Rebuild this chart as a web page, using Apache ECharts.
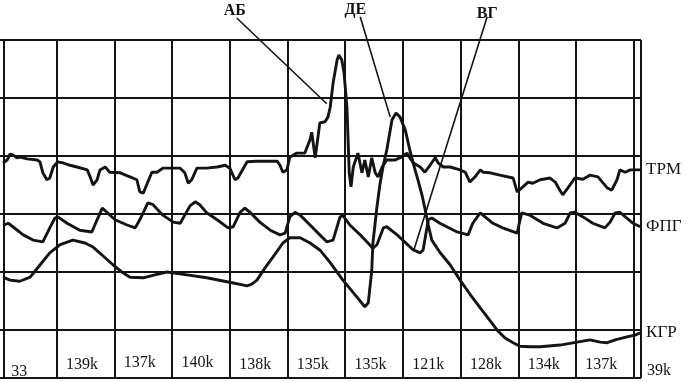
<!DOCTYPE html>
<html><head><meta charset="utf-8">
<script src="https://cdn.jsdelivr.net/npm/echarts@6/dist/echarts.min.js"></script>
<style>html,body{margin:0;padding:0;background:#fff}#c{width:698px;height:382px}</style>
</head><body><div id="c"></div>
<script>
// x: time in chart columns (one column per tick label), y: divisions below the top grid line
const timeLabels = ['33','139k','137k','140k','138k','135k','135k','121k','128k','134k','137k','39k'];
const channelNames = ['ТРМ','ФПГ','КГР'];
const markerNames = ['АБ','ДЕ','ВГ'];

const trm = [[0.07,2.12],[0.14,2.07],[0.19,1.97],[0.24,1.98],[0.31,2.03],[0.36,2.02],[0.49,2.05],[0.66,2.07],[0.71,2.10],[0.76,2.29],[0.83,2.41],[0.88,2.38],[0.94,2.19],[1.02,2.10],[1.11,2.12],[1.23,2.16],[1.35,2.19],[1.53,2.24],[1.58,2.36],[1.63,2.50],[1.70,2.41],[1.75,2.24],[1.84,2.19],[1.92,2.28],[2.10,2.29],[2.27,2.36],[2.39,2.41],[2.44,2.62],[2.50,2.64],[2.57,2.47],[2.65,2.28],[2.74,2.28],[2.84,2.21],[3.02,2.21],[3.14,2.21],[3.22,2.29],[3.28,2.47],[3.34,2.41],[3.43,2.21],[3.60,2.21],[3.78,2.19],[3.92,2.16],[4.00,2.21],[4.09,2.41],[4.14,2.38],[4.30,2.10],[4.47,2.09],[4.82,2.09],[4.87,2.16],[4.92,2.28],[4.99,2.24],[5.04,2.02],[5.16,1.95],[5.30,1.95],[5.39,1.72],[5.42,1.59],[5.48,2.03],[5.56,1.43],[5.65,1.41],[5.70,1.33],[5.74,1.16],[5.79,0.74],[5.86,0.34],[5.89,0.26],[5.94,0.34],[5.98,0.57],[6.03,1.16],[6.07,2.29],[6.10,2.53],[6.14,2.19],[6.22,1.95],[6.29,2.29],[6.34,2.07],[6.40,2.36],[6.46,2.03],[6.52,2.29],[6.57,2.36],[6.64,2.19],[6.72,2.07],[6.86,2.07],[6.95,2.03],[7.07,1.95],[7.12,2.03],[7.18,2.12],[7.30,2.19],[7.38,2.28],[7.47,2.16],[7.56,2.03],[7.61,2.12],[7.70,2.19],[7.82,2.19],[7.99,2.24],[8.08,2.28],[8.16,2.45],[8.25,2.36],[8.34,2.24],[8.39,2.28],[8.51,2.29],[8.68,2.33],[8.91,2.38],[8.98,2.62],[9.06,2.55],[9.17,2.45],[9.25,2.47],[9.38,2.41],[9.55,2.38],[9.64,2.45],[9.72,2.59],[9.77,2.67],[9.86,2.55],[9.98,2.38],[10.12,2.40],[10.24,2.33],[10.38,2.36],[10.54,2.55],[10.62,2.59],[10.71,2.41],[10.76,2.24],[10.85,2.28],[10.94,2.24],[11.11,2.24]];

const fpg = [[0.07,3.19],[0.16,3.16],[0.24,3.22],[0.42,3.36],[0.59,3.45],[0.76,3.48],[0.88,3.24],[0.97,3.07],[1.02,3.05],[1.18,3.16],[1.40,3.28],[1.61,3.31],[1.70,3.10],[1.79,2.90],[1.87,2.97],[2.01,3.10],[2.22,3.19],[2.36,3.24],[2.44,3.10],[2.58,2.81],[2.67,2.84],[2.84,3.02],[3.02,3.14],[3.14,3.16],[3.22,3.02],[3.31,2.86],[3.40,2.79],[3.48,2.84],[3.60,2.98],[3.78,3.10],[3.97,3.24],[4.06,3.22],[4.18,2.97],[4.26,2.90],[4.35,2.97],[4.52,3.14],[4.70,3.28],[4.87,3.36],[4.96,3.33],[5.04,3.05],[5.13,2.97],[5.22,3.02],[5.39,3.19],[5.56,3.36],[5.68,3.48],[5.79,3.45],[5.91,3.05],[5.96,3.03],[6.08,3.19],[6.26,3.36],[6.48,3.59],[6.55,3.53],[6.66,3.24],[6.72,3.22],[6.90,3.36],[7.18,3.62],[7.30,3.67],[7.35,3.62],[7.44,3.10],[7.50,3.07],[7.64,3.16],[7.94,3.31],[8.13,3.36],[8.21,3.16],[8.34,2.98],[8.56,3.16],[8.73,3.24],[8.98,3.33],[9.03,3.10],[9.06,2.98],[9.20,3.02],[9.43,3.16],[9.67,3.24],[9.81,3.16],[9.90,2.98],[9.98,2.97],[10.12,3.05],[10.29,3.16],[10.50,3.24],[10.59,3.14],[10.68,2.98],[10.76,2.97],[10.88,3.07],[10.99,3.16],[11.11,3.22]];

const kgr = [[0.07,4.09],[0.19,4.14],[0.36,4.16],[0.54,4.09],[0.71,3.88],[0.88,3.67],[1.06,3.53],[1.28,3.45],[1.49,3.50],[1.63,3.57],[1.80,3.72],[1.98,3.88],[2.13,4.00],[2.27,4.09],[2.50,4.10],[2.70,4.05],[2.91,4.00],[3.26,4.05],[3.60,4.10],[4.06,4.19],[4.30,4.24],[4.38,4.21],[4.47,4.14],[4.61,3.93],[4.75,3.74],[4.92,3.50],[5.04,3.41],[5.22,3.41],[5.39,3.50],[5.56,3.62],[5.74,3.84],[5.96,4.14],[6.20,4.43],[6.34,4.60],[6.40,4.53],[6.46,3.97],[6.48,3.50],[6.55,2.88],[6.60,2.50],[6.66,2.16],[6.72,1.90],[6.81,1.38],[6.88,1.26],[6.95,1.33],[7.04,1.55],[7.12,1.90],[7.21,2.24],[7.26,2.41],[7.33,2.67],[7.38,2.90],[7.44,3.19],[7.50,3.45],[7.64,3.66],[7.82,3.88],[7.99,4.14],[8.16,4.38],[8.34,4.62],[8.51,4.84],[8.63,5.00],[8.77,5.14],[8.91,5.22],[9.03,5.28],[9.20,5.29],[9.38,5.29],[9.72,5.26],[10.02,5.21],[10.24,5.17],[10.42,5.21],[10.54,5.22],[10.68,5.17],[10.88,5.12],[11.02,5.09],[11.11,5.05]];

const pointerAB = [[4.12,-0.38],[5.68,1.10]];
const pointerDE = [[6.26,-0.40],[6.78,1.33]];
const pointerVG = [[8.46,-0.40],[7.19,3.62]];

const FONT = "'Liberation Serif', 'DejaVu Serif', serif";
const INK = '#141414';

function trace(name, data) {
  return {
    type: 'line', name: name, data: data, xAxisIndex: 0, yAxisIndex: 0,
    symbol: 'none', smooth: false, animation: false,
    lineStyle: { color: INK, width: 2.9 },
    endLabel: { show: true, formatter: name, color: INK, fontFamily: FONT, fontSize: 17, distance: 6 }
  };
}
function pointer(name, pts, shift) {
  return {
    type: 'line', name: name, xAxisIndex: 0, yAxisIndex: 0, clip: false,
    symbol: 'circle', symbolSize: 1, showSymbol: true, animation: false, silent: true,
    itemStyle: { color: 'rgba(0,0,0,0)' },
    lineStyle: { color: INK, width: 1.6 },
    label: { show: false },
    data: pts.map((p, i) => i === 0 ? {
      value: p,
      label: { show: true, position: 'top', distance: 1, offset: shift, formatter: name,
               color: INK, fontFamily: FONT, fontSize: 16, fontWeight: 'bold' }
    } : p)
  };
}

function labelStyle(i) {
  if (i === 0) return 'a';
  if (i === timeLabels.length - 1) return 'd';
  if (i === 2 || i === 3) return 'c';
  return 'b';
}

const chart = echarts.init(document.getElementById('c'), null, { renderer: 'canvas' });
chart.setOption({
  backgroundColor: '#ffffff',
  animation: false,
  grid: [
    { left: -1, top: 40, width: 642, height: 338, outerBoundsMode: 'none', containLabel: false },
    { left: -4.5, top: 40, width: 692.4, height: 338, outerBoundsMode: 'none', containLabel: false }
  ],
  xAxis: [
    { type: 'value', gridIndex: 0, min: 0, max: 11.126, interval: 1,
      axisLine: { show: false }, axisTick: { show: false }, axisLabel: { show: false },
      splitLine: { show: true, lineStyle: { color: INK, width: 2 } } },
    { type: 'category', gridIndex: 1, data: timeLabels, boundaryGap: true,
      axisLine: { show: false }, axisTick: { show: false }, splitLine: { show: false },
      axisLabel: {
        show: true, inside: true, margin: -2, interval: 0,
        color: INK, fontFamily: FONT, fontSize: 16,
        formatter: (v, i) => '{' + labelStyle(i) + '|' + v + '}',
        rich: {
          a: { fontFamily: FONT, fontSize: 16, color: INK, padding: [0, 10, 0, 0] },
          b: { fontFamily: FONT, fontSize: 16, color: INK, padding: [0, 0, 7, 0] },
          c: { fontFamily: FONT, fontSize: 16, color: INK, padding: [0, 0, 9, 0] },
          d: { fontFamily: FONT, fontSize: 16, color: INK, padding: [0, 0, 1, 0] }
        }
      } }
  ],
  yAxis: [
    { type: 'value', gridIndex: 0, inverse: true, min: 0, max: 5.828, interval: 1,
      offset: -4.3,
      axisLine: { show: true, onZero: false, lineStyle: { color: INK, width: 2 } },
      axisTick: { show: false }, axisLabel: { show: false },
      splitLine: { show: true, lineStyle: { color: INK, width: 2 } } },
    { type: 'value', gridIndex: 1, show: false, min: 0, max: 1 }
  ],
  series: [
    trace(channelNames[0], trm),
    trace(channelNames[1], fpg),
    trace(channelNames[2], kgr),
    pointer(markerNames[0], pointerAB, [-2, 2]),
    pointer(markerNames[1], pointerDE, [-5, 3]),
    pointer(markerNames[2], pointerVG, [0, 7])
  ]
});
</script>
</body></html>
